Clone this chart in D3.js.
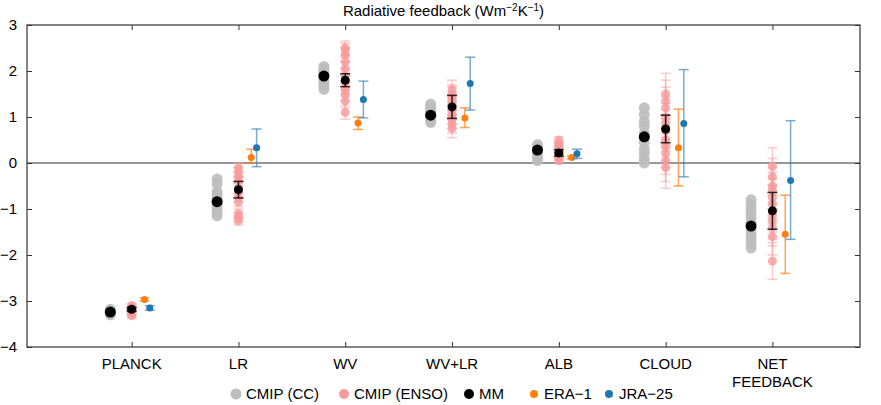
<!DOCTYPE html>
<html><head><meta charset="utf-8">
<script src="https://cdn.jsdelivr.net/npm/d3@7"></script>
<style>body{margin:0;background:#fff}text{font-family:"Liberation Sans",Arial,sans-serif}</style>
</head><body><div class="canvas"></div>
<script>
const categories = ['PLANCK', 'LR', 'WV', 'WV+LR', 'ALB', 'CLOUD', 'NET\nFEEDBACK'];
const yTicks = [-4, -3, -2, -1, 0, 1, 2, 3];

// CMIP (CC) model values
const ccValues = [
  [-3.2, -3.22, -3.24, -3.26, -3.28, -3.3, -3.18],
  [-0.35, -0.45, -0.62, -0.7, -0.78, -0.85, -0.92, -1.0, -1.08, -1.15],
  [1.6, 1.68, 1.75, 1.82, 1.88, 1.95, 2.0, 2.05, 2.1],
  [0.88, 0.93, 0.98, 1.02, 1.08, 1.12, 1.18, 1.22, 1.28],
  [0.05, 0.12, 0.2, 0.25, 0.3, 0.35, 0.4],
  [0.0, 0.08, 0.2, 0.3, 0.45, 0.55, 0.65, 0.8, 0.9, 1.05, 1.2],
  [-0.8, -0.9, -1.0, -1.1, -1.2, -1.3, -1.45, -1.55, -1.65, -1.75, -1.85]
];
const ccMean = [-3.24, -0.84, 1.89, 1.04, 0.28, 0.57, -1.37];

// CMIP (ENSO) model values and their uncertainty
const ensoValues = [
  [-3.1, -3.14, -3.18, -3.2, -3.24, -3.28, -3.32],
  [-0.1, -0.2, -0.3, -0.4, -0.55, -0.65, -0.75, -0.85, -1.1, -1.18, -1.25],
  [1.1, 1.35, 1.5, 1.6, 1.75, 1.9, 2.05, 2.2, 2.35, 2.45, 2.5],
  [0.75, 0.85, 0.95, 1.05, 1.15, 1.25, 1.35, 1.45, 1.5, 1.6],
  [0.05, 0.12, 0.2, 0.28, 0.35, 0.42, 0.5],
  [-0.1, 0.05, 0.2, 0.35, 0.5, 0.7, 0.85, 1.0, 1.2, 1.35, 1.5],
  [-0.07, -0.3, -0.5, -0.6, -0.75, -0.9, -1.1, -1.25, -1.4, -1.6, -2.13]
];
const ensoErr = [0.05, 0.1, 0.15, 0.2, 0.06, 0.45, 0.4];
const mmEnso = [-3.18, -0.58, 1.8, 1.22, 0.22, 0.74, -1.04];
const mmEnsoErr = [0.04, 0.18, 0.14, 0.25, 0.07, 0.3, 0.4];

// Reanalyses: value, low, high
const era = [-2.97, 0.12, 0.87, 0.98, 0.12, 0.33, -1.55];
const eraLo = [-3.0, 0.0, 0.73, 0.77, 0.09, -0.5, -2.4];
const eraHi = [-2.93, 0.3, 1.0, 1.2, 0.15, 1.17, -0.7];
const jra = [-3.15, 0.33, 1.38, 1.73, 0.2, 0.86, -0.38];
const jraLo = [-3.2, -0.08, 0.98, 1.15, 0.1, -0.3, -1.66];
const jraHi = [-3.1, 0.74, 1.78, 2.3, 0.3, 2.03, 0.92];

const W = 881, H = 405;
const m = {l: 27, r: 21, t: 25, b: 58};
const svg = d3.select('.canvas').append('svg').attr('width', W).attr('height', H);

const x = d3.scaleLinear().domain([0.02, 7.82]).range([m.l, W - m.r]);
const y = d3.scaleLinear().domain([-4, 3]).range([H - m.b, m.t]);

const GREY = '#bdbdbd', PINK = '#f79a9a', ORANGE = '#ff7f0e', BLUE = '#1f77b4';
const dCC = -0.2, dERA = 0.12, dJRA = 0.17;

// axes (ticks inward, box)
svg.append('g').attr('transform', `translate(${m.l},0)`)
  .call(d3.axisLeft(y).tickValues(yTicks).tickSizeInner(-5).tickSizeOuter(0).tickPadding(10)
    .tickFormat(d => d < 0 ? '\u2212' + Math.abs(d) : d))
  .call(g => g.selectAll('text').attr('font-size', 15).attr('fill', '#000'));
svg.append('g').attr('transform', `translate(${W - m.r},0)`)
  .call(d3.axisRight(y).tickValues(yTicks).tickSizeInner(-5).tickSizeOuter(0).tickFormat(''));
svg.append('g').attr('transform', `translate(0,${m.t})`)
  .call(d3.axisTop(x).tickValues(d3.range(1, 8)).tickSizeInner(-5).tickSizeOuter(0).tickFormat(''));
const xb = svg.append('g').attr('transform', `translate(0,${H - m.b})`)
  .call(d3.axisBottom(x).tickValues(d3.range(1, 8)).tickSizeInner(-5).tickSizeOuter(0).tickFormat(''));
svg.selectAll('.domain').remove();
svg.selectAll('.tick line').attr('stroke', '#333');
svg.append('rect').attr('x', m.l).attr('y', m.t).attr('width', W - m.l - m.r).attr('height', H - m.t - m.b)
  .attr('fill', 'none').attr('stroke', '#333').attr('stroke-width', 1.2);
svg.append('line').attr('x1', m.l).attr('x2', W - m.r).attr('y1', y(0)).attr('y2', y(0))
  .attr('stroke', '#333').attr('stroke-width', 1.2);

categories.forEach((c, i) => {
  const t = svg.append('text').attr('x', x(i + 1)).attr('y', H - m.b + 22)
    .attr('text-anchor', 'middle').attr('font-size', 15);
  c.split('\n').forEach((s, k) => t.append('tspan').attr('x', x(i + 1)).attr('dy', k ? 18 : 0).text(s));
});

svg.append('text').attr('x', (m.l + W - m.r) / 2).attr('y', 16).attr('text-anchor', 'middle')
  .attr('font-size', 15).text('Radiative feedback (Wm')
  .call(t => { t.append('tspan').attr('dy', -5).attr('font-size', 10).text('\u22122');
               t.append('tspan').attr('dy', 5).text('K');
               t.append('tspan').attr('dy', -5).attr('font-size', 10).text('\u22121');
               t.append('tspan').attr('dy', 5).text(')'); });

function errbar(g, cx, lo, hi, color, cap, op) {
  g.append('line').attr('x1', cx).attr('x2', cx).attr('y1', y(lo)).attr('y2', y(hi))
    .attr('stroke', color).attr('stroke-width', 1.5).attr('opacity', op);
  [lo, hi].forEach(v => g.append('line').attr('x1', cx - cap).attr('x2', cx + cap)
    .attr('y1', y(v)).attr('y2', y(v)).attr('stroke', color).attr('stroke-width', 1.5).attr('opacity', op));
}

const plot = svg.append('g');
categories.forEach((c, i) => {
  const xc = x(i + 1 + dCC), xe = x(i + 1);
  ccValues[i].forEach(v => plot.append('circle').attr('cx', xc).attr('cy', y(v)).attr('r', 5.5)
    .attr('fill', GREY).attr('opacity', 0.9));
  ensoValues[i].forEach(v => {
    errbar(plot, xe, v - ensoErr[i], v + ensoErr[i], PINK, 5, 0.5);
    plot.append('circle').attr('cx', xe).attr('cy', y(v)).attr('r', 4.5).attr('fill', PINK).attr('opacity', 0.8);
  });
  plot.append('circle').attr('cx', xc).attr('cy', y(ccMean[i])).attr('r', 5.5).attr('fill', '#000');
  errbar(plot, xe, mmEnso[i] - mmEnsoErr[i], mmEnso[i] + mmEnsoErr[i], '#000', 5, 0.8);
  plot.append('circle').attr('cx', xe).attr('cy', y(mmEnso[i])).attr('r', 4.5).attr('fill', '#000');
  errbar(plot, x(i + 1 + dERA), eraLo[i], eraHi[i], ORANGE, 5, 0.7);
  plot.append('circle').attr('cx', x(i + 1 + dERA)).attr('cy', y(era[i])).attr('r', 3.5).attr('fill', ORANGE);
  errbar(plot, x(i + 1 + dJRA), jraLo[i], jraHi[i], BLUE, 5, 0.6);
  plot.append('circle').attr('cx', x(i + 1 + dJRA)).attr('cy', y(jra[i])).attr('r', 3.5).attr('fill', BLUE);
});

const legend = [['CMIP (CC)', GREY, 5.5, 236], ['CMIP (ENSO)', PINK, 5, 344], ['MM', '#000', 5, 469],
  ['ERA\u22121', ORANGE, 4, 534], ['JRA\u221225', BLUE, 4, 609]];
legend.forEach(([t, col, r, lx]) => {
  svg.append('circle').attr('cx', lx).attr('cy', 394).attr('r', r).attr('fill', col);
  svg.append('text').attr('x', lx + 10).attr('y', 399).attr('font-size', 15).text(t);
});
</script></body></html>
